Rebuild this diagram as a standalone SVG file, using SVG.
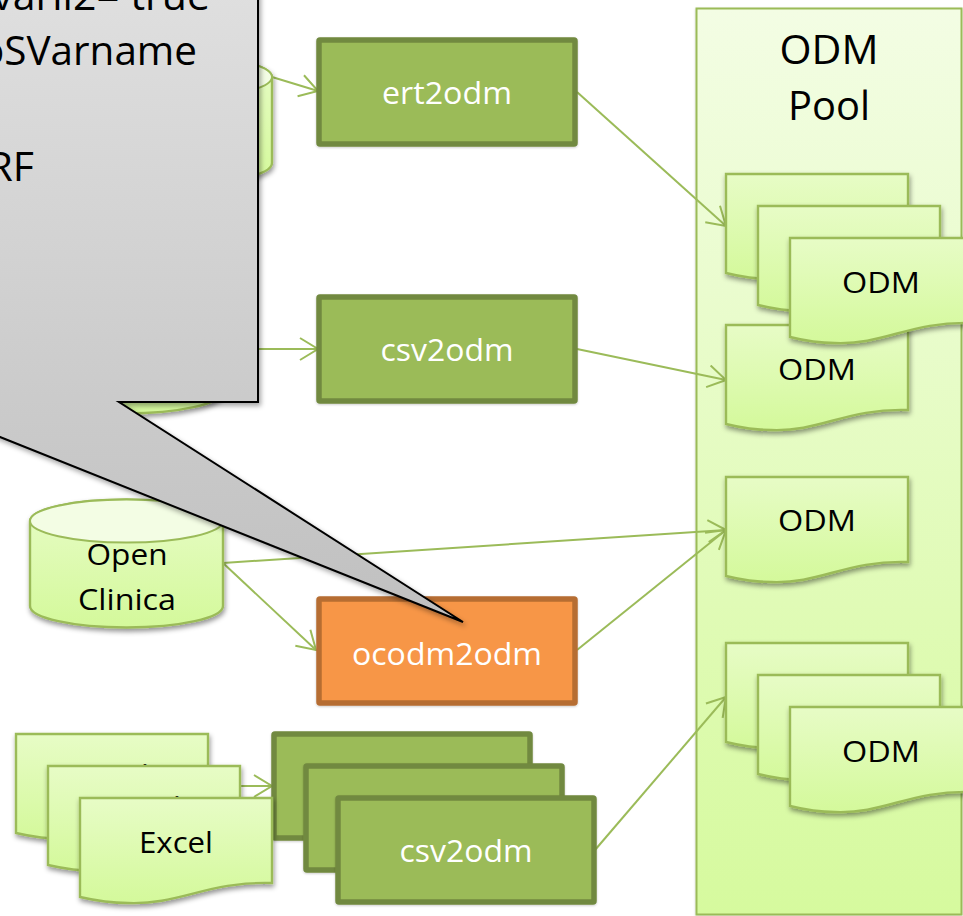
<svg xmlns="http://www.w3.org/2000/svg" width="963" height="916" viewBox="0 0 963 916">
<style>
text{font-family:"Open Sans","Noto Sans","Liberation Sans",sans-serif;text-anchor:middle;fill:#000}
.c{fill:none;stroke:#9bbb59;stroke-width:2;marker-end:url(#arr)}
.doc{fill:url(#gDoc);stroke:#9bbb59;stroke-width:2.4;filter:url(#sh)}
.cyl{fill:url(#gDoc);stroke:#9bbb59;stroke-width:2.4;filter:url(#sh)}
.lid{fill:#f3fde4;stroke:#9bbb59;stroke-width:2}
.proc{fill:#9bbb59;stroke:#71893f;stroke-width:5.5;filter:url(#sh2)}
.orange{fill:#f79646;stroke:#b66d31;stroke-width:5.5;filter:url(#sh2)}
.pt{font-size:31px;fill:#fff}
.dt{font-size:30px}
.big{font-size:41px}
.call{font-size:41px;text-anchor:end}
</style>
<defs>
<linearGradient id="gDoc" x1="0" y1="0" x2="0" y2="1"><stop offset="0" stop-color="#e7fcc6"/><stop offset="1" stop-color="#d4f99b"/></linearGradient>
<linearGradient id="gPool" x1="0" y1="0" x2="0" y2="1"><stop offset="0" stop-color="#f3fde4"/><stop offset="1" stop-color="#d6fa9e"/></linearGradient>
<linearGradient id="gCall" gradientUnits="userSpaceOnUse" x1="0" y1="-30" x2="0" y2="622"><stop offset="0" stop-color="#e0e0e0"/><stop offset="1" stop-color="#c0c0c0"/></linearGradient>
<filter id="sh" x="-10%" y="-10%" width="125%" height="125%"><feDropShadow dx="1" dy="3" stdDeviation="2.4" flood-color="#000" flood-opacity=".42"/></filter>
<filter id="sh2" x="-10%" y="-10%" width="120%" height="125%"><feDropShadow dx="0" dy="1" stdDeviation="1" flood-color="#000" flood-opacity=".2"/></filter>
<filter id="shC" x="-10%" y="-10%" width="120%" height="120%"><feDropShadow dx="2" dy="3" stdDeviation="2.5" flood-color="#000" flood-opacity=".35"/></filter>
<marker id="arr" markerUnits="userSpaceOnUse" markerWidth="24" markerHeight="26" refX="20" refY="12" orient="auto"><path d="M2,1 L20,12 L2,23" fill="none" stroke="#9bbb59" stroke-width="2"/></marker>
<path id="w" d="M0,0 H182 V85 C120,83 95,107 45,105 C28,105 12,102 0,99 Z"/>
<path id="wx" d="M0,0 H192 V85 C127,83 100,107 48,105 C30,105 13,102 0,99 Z"/>
</defs>
<rect width="963" height="916" fill="#fff"/>
<g id="pool">
<rect x="696.500" y="8.500" width="265" height="906" fill="url(#gPool)" stroke="#9bbb59" stroke-width="2" filter="url(#sh2)"/>
<text class="big" x="829" y="64" textLength="99" lengthAdjust="spacingAndGlyphs">ODM</text>
<text class="big" x="829" y="120" textLength="82" lengthAdjust="spacingAndGlyphs">Pool</text>
</g>
<g id="connectors">
<path class="c" d="M272,77 L318,91"/>
<path class="c" d="M222,349 L318,349"/>
<path class="c" d="M577,92 L726,226"/>
<path class="c" d="M577,349 L726,380"/>
<path class="c" d="M223,563 L726,530"/>
<path class="c" d="M223,563 L316,650"/>
<path class="c" d="M577,650 L726,530"/>
<path class="c" d="M595,850 L726,697"/>
<path class="c" d="M230,786 L272,786"/>
</g>
<g id="cyl-ert">
<path class="cyl" d="M79,77 A96.500,21.500 0 0 1 272,77 V163 A96.500,21.500 0 0 1 79,163 Z"/>
<ellipse class="lid" cx="175.500" cy="77" rx="96.500" ry="21.500"/>
</g>
<g id="cyl-csv">
<path class="cyl" d="M29,306 A96.500,21.500 0 0 1 222,306 V392 A96.500,21.500 0 0 1 29,392 Z"/>
<ellipse class="lid" cx="125.500" cy="306" rx="96.500" ry="21.500"/>
</g>
<g id="cyl-openclinica">
<path class="cyl" d="M30,521 A96.500,21.500 0 0 1 223,521 V606 A96.500,21.500 0 0 1 30,606 Z"/>
<ellipse class="lid" cx="126.500" cy="521" rx="96.500" ry="21.500"/>
<text class="dt" x="127" y="565" textLength="81" lengthAdjust="spacingAndGlyphs">Open</text>
<text class="dt" x="127" y="610" textLength="98" lengthAdjust="spacingAndGlyphs">Clinica</text>
</g>
<g id="ert2odm"><rect class="proc" x="319" y="40" width="256" height="104" rx="1"/><text class="pt" x="447" y="104" textLength="130" lengthAdjust="spacingAndGlyphs">ert2odm</text></g>
<g id="csv2odm"><rect class="proc" x="319" y="297" width="256" height="104" rx="1"/><text class="pt" x="447" y="361" textLength="133" lengthAdjust="spacingAndGlyphs">csv2odm</text></g>
<g id="ocodm2odm"><rect class="orange" x="319" y="599" width="256" height="104" rx="1"/><text class="pt" x="447" y="665" textLength="190" lengthAdjust="spacingAndGlyphs">ocodm2odm</text></g>
<g id="csv2odm-1"><rect class="proc" x="274" y="734" width="256" height="104" rx="1"/></g>
<g id="csv2odm-2"><rect class="proc" x="306" y="766" width="256" height="104" rx="1"/></g>
<g id="csv2odm-3"><rect class="proc" x="338" y="798" width="256" height="104" rx="1"/><text class="pt" x="466" y="862" textLength="133" lengthAdjust="spacingAndGlyphs">csv2odm</text></g>
<g id="odm-a4"><use href="#w" class="doc" x="726" y="325"/><text class="dt" x="817" y="380" textLength="78" lengthAdjust="spacingAndGlyphs">ODM</text></g>
<g id="odm-a1"><use href="#w" class="doc" x="726" y="174"/></g>
<g id="odm-a2"><use href="#w" class="doc" x="758" y="206"/></g>
<g id="odm-a3"><use href="#w" class="doc" x="790" y="238"/><text class="dt" x="881" y="293" textLength="78" lengthAdjust="spacingAndGlyphs">ODM</text></g>
<g id="odm-b"><use href="#w" class="doc" x="726" y="477"/><text class="dt" x="817" y="531" textLength="78" lengthAdjust="spacingAndGlyphs">ODM</text></g>
<g id="odm-c1"><use href="#w" class="doc" x="726" y="643"/><text class="dt" x="817" y="696" textLength="78" lengthAdjust="spacingAndGlyphs">ODM</text></g>
<g id="odm-c2"><use href="#w" class="doc" x="758" y="675"/><text class="dt" x="849" y="728" textLength="78" lengthAdjust="spacingAndGlyphs">ODM</text></g>
<g id="odm-c3"><use href="#w" class="doc" x="790" y="707"/><text class="dt" x="881" y="762" textLength="78" lengthAdjust="spacingAndGlyphs">ODM</text></g>
<g id="excel-1"><use href="#wx" class="doc" x="16" y="734"/><text class="dt" x="112" y="786" textLength="74" lengthAdjust="spacingAndGlyphs">Excel</text></g>
<g id="excel-2"><use href="#wx" class="doc" x="48" y="766"/><text class="dt" x="144" y="818" textLength="74" lengthAdjust="spacingAndGlyphs">Excel</text></g>
<g id="excel-3"><use href="#wx" class="doc" x="80" y="798"/><text class="dt" x="176" y="853" textLength="74" lengthAdjust="spacingAndGlyphs">Excel</text></g>
<g id="callout">
<path d="M-10,-10 H258 V402 H119 L463,622 L-10,433 Z" fill="url(#gCall)" stroke="#000" stroke-width="2" filter="url(#shC)"/>
<text class="call" x="210" y="10">varli2= true</text>
<text class="call" x="197" y="65" textLength="217" lengthAdjust="spacingAndGlyphs">oSVarname</text>
<text class="call" x="34" y="181">RF</text>
</g>
</svg>
